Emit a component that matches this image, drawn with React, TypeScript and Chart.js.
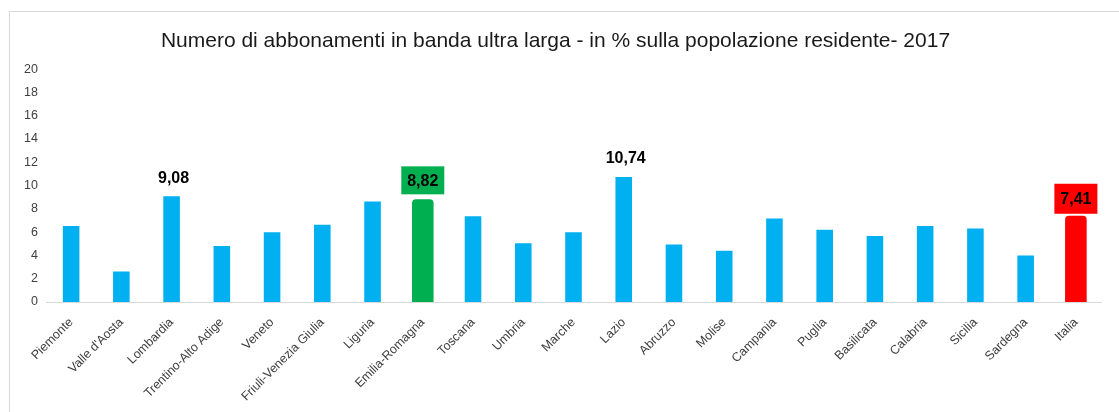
import React, { useEffect, useRef } from "react";
import { Chart, registerables } from "chart.js";

Chart.register(...registerables);

const TITLE = "Numero di abbonamenti in banda ultra larga - in % sulla popolazione residente- 2017";

const regions = [
  "Piemonte", "Valle d'Aosta", "Lombardia", "Trentino-Alto Adige", "Veneto",
  "Friuli-Venezia Giulia", "Liguria", "Emilia-Romagna", "Toscana", "Umbria",
  "Marche", "Lazio", "Abruzzo", "Molise", "Campania", "Puglia", "Basilicata",
  "Calabria", "Sicilia", "Sardegna", "Italia",
];

const values = [
  6.52, 2.61, 9.08, 4.82, 6.0, 6.64, 8.64, 8.82, 7.37, 5.04,
  6.0, 10.74, 4.93, 4.41, 7.17, 6.2, 5.68, 6.52, 6.32, 4.0, 7.41,
];

// categories shown with a plain bold label above the bar
const plainLabelled = ["Lombardia", "Lazio"];
// categories highlighted with a coloured box label
const highlighted = ["Emilia-Romagna", "Italia"];
const highlightColors = ["#00b050", "#ff0000"];

const yTicks = [0, 2, 4, 6, 8, 10, 12, 14, 16, 18, 20];

const BLUE = "#00b0f0";

const fmt = (v: number) => v.toFixed(2).replace(".", ",");

const labelPlugin = {
  id: "valueLabels",
  afterDatasetsDraw(chart: any) {
    const ctx = chart.ctx;
    ctx.save();
    ctx.font = "bold 16px 'Liberation Sans', 'DejaVu Sans', sans-serif";
    ctx.textAlign = "center";
    ctx.textBaseline = "middle";
    const m0 = chart.getDatasetMeta(0);
    plainLabelled.forEach((name) => {
      const i = regions.indexOf(name);
      const el = m0.data[i];
      ctx.fillStyle = "#000";
      ctx.fillText(fmt(values[i]), el.x + 2, el.y - 18);
    });
    const m1 = chart.getDatasetMeta(1);
    highlighted.forEach((name, k) => {
      const i = regions.indexOf(name);
      const el = m1.data[i];
      const w = 43;
      const h = k === 0 ? 28 : 30;
      const gap = k === 0 ? 5 : 2;
      ctx.fillStyle = highlightColors[k];
      ctx.fillRect(el.x - w / 2, el.y - gap - h, w, h);
      ctx.fillStyle = "#000";
      ctx.fillText(fmt(values[i]), el.x, el.y - gap - h / 2 + 1);
    });
    ctx.restore();
  },
};

export default function App() {
  const ref = useRef<HTMLCanvasElement>(null);
  useEffect(() => {
    const plain = values.map((v, i) => (highlighted.includes(regions[i]) ? null : v));
    const hi = values.map((v, i) => (highlighted.includes(regions[i]) ? v : null));
    const hiColors = regions.map((r) => {
      const k = highlighted.indexOf(r);
      return k >= 0 ? highlightColors[k] : BLUE;
    });
    const chart = new Chart(ref.current!, {
      type: "bar",
      data: {
        labels: regions,
        datasets: [
          {
            data: plain,
            backgroundColor: BLUE,
            barPercentage: 0.33,
            categoryPercentage: 1,
            grouped: false,
          } as any,
          {
            data: hi,
            backgroundColor: hiColors,
            barPercentage: 0.43,
            categoryPercentage: 1,
            grouped: false,
            borderRadius: { topLeft: 4, topRight: 4, bottomLeft: 0, bottomRight: 0 },
            borderSkipped: "bottom",
          } as any,
        ],
      },
      options: {
        animation: false,
        responsive: true,
        maintainAspectRatio: false,
        layout: { padding: { left: 10, right: 18, top: 0, bottom: 0 } },
        plugins: {
          legend: { display: false },
          tooltip: { enabled: false },
          title: {
            display: true,
            text: TITLE,
            color: "#1a1a1a",
            font: { family: "'Liberation Sans', sans-serif", size: 21, weight: "normal" },
            padding: { top: 29, bottom: 15 },
          },
        },
        scales: {
          x: {
            grid: { display: false, drawTicks: false },
            border: { display: true, color: "#d9d9d9", width: 1 },
            ticks: {
              color: "#404040",
              font: { family: "'Liberation Sans', sans-serif", size: 12.5 },
              minRotation: 45,
              maxRotation: 45,
              autoSkip: false,
              padding: 13,
            },
            afterFit: (s: any) => {
              s.height = 110;
            },
          },
          y: {
            min: 0,
            max: 20,
            afterBuildTicks: (s: any) => {
              s.ticks = yTicks.map((v) => ({ value: v }));
            },
            grid: { display: false, drawTicks: false },
            border: { display: false },
            ticks: {
              color: "#404040",
              font: { family: "'Liberation Sans', sans-serif", size: 12.5 },
              padding: 8,
            },
            afterFit: (s: any) => {
              s.width = 36;
            },
          },
        },
      },
      plugins: [labelPlugin],
    });
    return () => chart.destroy();
  }, []);
  return (
    <div style={{ position: "fixed", left: 0, top: 0, width: 1119, height: 412, background: "#fff" }}>
      <div
        style={{
          position: "absolute",
          left: 9,
          top: 11,
          right: 0,
          bottom: 0,
          borderTop: "1px solid #d9d9d9",
          borderLeft: "1px solid #d9d9d9",
        }}
      />
      <div style={{ position: "absolute", left: 0, top: 0, width: 1119, height: 412 }}>
        <canvas ref={ref} />
      </div>
    </div>
  );
}
